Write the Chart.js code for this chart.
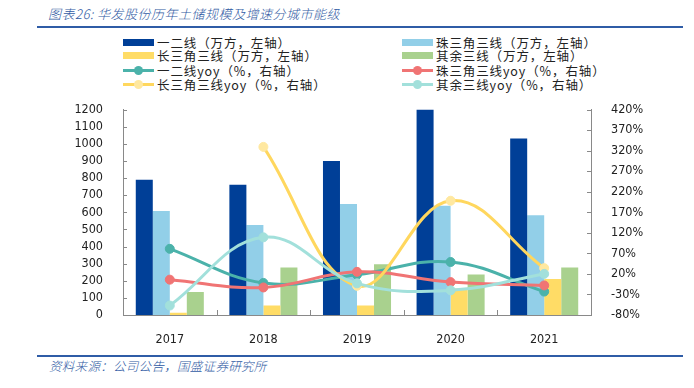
<!DOCTYPE html>
<html>
<head>
<meta charset="utf-8">
<script src="https://cdn.jsdelivr.net/npm/chart.js@4.4.1/dist/chart.umd.min.js"></script>
<style>
    html, body { margin: 0; padding: 0; background: #fff; }
    #page { position: relative; width: 694px; height: 388px; overflow: hidden; font-family: "Noto Sans CJK SC", sans-serif; }
    .title { position: absolute; left: 48px; top: 4px; font-size: 13px; font-style: italic; font-weight: 300; color: #2f5aa3; white-space: nowrap; letter-spacing: 0.5px; }
    .rule { position: absolute; left: 37px; width: 646px; height: 2px; background: #2f5ca6; }
    .source { position: absolute; left: 49px; font-size: 12.5px; font-style: italic; font-weight: 300; color: #2f5aa3; white-space: nowrap; letter-spacing: 0.3px; }
    #legend { position: absolute; left: 0; top: 0; }
    .item { position: absolute; height: 14px; display: flex; align-items: center; font-size: 12.5px; color: #222; white-space: nowrap; letter-spacing: 0.9px; }
    .mark { position: relative; width: 31px; height: 14px; margin-right: 3px; }
    .mark .box { position: absolute; left: 0; top: 3.5px; width: 31px; height: 7px; }
    .mark .ln { position: absolute; left: 0; top: 5.5px; width: 31px; height: 3px; }
    .mark .dot { position: absolute; left: 11px; top: 2.5px; width: 9px; height: 9px; border-radius: 50%; }
    #chartBox { position: absolute; left: 0; top: 90px; width: 694px; height: 260px; }
</style>
</head>
<body>
<div id="page">
    <div class="title">图表26: 华发股份历年土储规模及增速分城市能级</div>
    <div class="rule" style="top: 26px;"></div>
    <div id="legend"></div>
    <div id="chartBox"><canvas id="landChart"></canvas></div>
    <div class="rule" style="top: 355px;"></div>
    <div class="source" style="top: 356px;">资料来源：公司公告，国盛证券研究所</div>
</div>
<script>
// Data
const years = ['2017', '2018', '2019', '2020', '2021'];
const tier12 = [790, 760, 900, 1200, 1030];       // 一二线 (万方)
const prd = [607, 525, 648, 638, 582];            // 珠三角三线
const yrd = [13, 55, 55, 155, 210];               // 长三角三线
const others = [134, 278, 296, 236, 278];         // 其余三线
const tier12Yoy = [81, -2, 18, 49, -23];          // %
const prdYoy = [6, -13, 25, 0, -8];
const yrdYoy = [null, 329, -9, 198, 34];
const othersYoy = [-57, 109, -3, -20, 20];
const leftTicks = { min: 0, max: 1200, step: 100 };
const rightTicks = { min: -80, max: 420, step: 50 };

const axisColor = '#898989';
const tickFont = { family: 'Tahoma, "DejaVu Sans Condensed", sans-serif', size: 12.5 };

function barSet(label, data, color) {
    return { type: 'bar', label: label, data: data, backgroundColor: color, yAxisID: 'y', order: 10,
        barPercentage: 1, categoryPercentage: 0.727 };
}
function lineSet(label, data, color, dotColor, order) {
    return { type: 'line', label: label, data: data, borderColor: color, backgroundColor: dotColor,
        pointBackgroundColor: dotColor, pointBorderColor: dotColor, pointRadius: 4.5, pointBorderWidth: 1,
        borderWidth: 3, tension: 0.4, yAxisID: 'y1', order: order };
}

const datasets = [
    barSet('一二线（万方，左轴）', tier12, '#003f97'),
    barSet('珠三角三线（万方，左轴）', prd, '#92cfe8'),
    barSet('长三角三线（万方，左轴）', yrd, '#ffdc66'),
    barSet('其余三线（万方，左轴）', others, '#a9d18e'),
    lineSet('一二线yoy（%，右轴）', tier12Yoy, '#4bb2aa', '#4bb2aa', 4),
    lineSet('珠三角三线yoy（%，右轴）', prdYoy, '#f07474', '#f07474', 3),
    lineSet('长三角三线yoy（%，右轴）', yrdYoy, '#ffd75e', '#ffe8a0', 2),
    lineSet('其余三线yoy（%，右轴）', othersYoy, '#a2e0db', '#a2e0db', 1)
];

// small inward tick marks like the original
const innerTicks = {
    id: 'innerTicks',
    beforeDatasetsDraw(chart) {
        const { ctx, chartArea, scales } = chart;
        ctx.save();
        ctx.strokeStyle = axisColor;
        ctx.lineWidth = 1;
        ctx.beginPath();
        scales.y.ticks.forEach(t => {
            const py = Math.round(scales.y.getPixelForValue(t.value)) + 0.5;
            ctx.moveTo(chartArea.left, py); ctx.lineTo(chartArea.left + 4, py);
        });
        scales.y1.ticks.forEach(t => {
            const py = Math.round(scales.y1.getPixelForValue(t.value)) + 0.5;
            ctx.moveTo(chartArea.right - 4, py); ctx.lineTo(chartArea.right, py);
        });
        for (let i = 0; i < years.length - 1; i++) {
            const px = Math.round((scales.x.getPixelForValue(i) + scales.x.getPixelForValue(i + 1)) / 2) + 0.5;
            ctx.moveTo(px, chartArea.bottom); ctx.lineTo(px, chartArea.bottom - 5);
        }
        ctx.stroke();
        ctx.restore();
    }
};

const chart = new Chart(document.getElementById('landChart'), {
    data: { labels: years, datasets: datasets },
    options: {
        responsive: true,
        maintainAspectRatio: false,
        animation: false,
        layout: { padding: { top: 8, left: 0, right: 0, bottom: 0 } },
        plugins: { legend: { display: false }, tooltip: { enabled: false } },
        scales: {
            x: {
                grid: { display: false },
                border: { display: true, color: axisColor, width: 1 },
                ticks: { color: '#222', font: tickFont, padding: 9 },
                afterFit(scale) { scale.height = 35; }
            },
            y: {
                position: 'left',
                min: leftTicks.min, max: leftTicks.max,
                grid: { display: false },
                border: { display: true, color: axisColor, width: 1 },
                ticks: { stepSize: leftTicks.step, autoSkip: false, color: '#222', font: tickFont, padding: 12,
                    callback: v => String(v) },
                afterFit(scale) { scale.width = 123; }
            },
            y1: {
                position: 'right',
                min: rightTicks.min, max: rightTicks.max,
                grid: { display: false },
                border: { display: true, color: axisColor, width: 1 },
                ticks: { stepSize: rightTicks.step, autoSkip: false, color: '#222', font: tickFont, padding: 12,
                    callback: v => v + '%' },
                afterFit(scale) { scale.width = 103; }
            }
        }
    },
    plugins: [innerTicks]
});

// Legend in two columns, built from the datasets
const legendBox = document.getElementById('legend');
const colX = [123, 402];
const rowY = [42, 55, 70, 84];
chart.data.datasets.forEach((ds, i) => {
    const item = document.createElement('div');
    item.className = 'item';
    const row = Math.floor(i / 2), col = i % 2;
    item.style.left = colX[col] + 'px';
    item.style.top = (rowY[row] - 7) + 'px';
    const mark = document.createElement('div');
    mark.className = 'mark';
    if (ds.type === 'bar') {
        mark.innerHTML = '<div class="box" style="background:' + ds.backgroundColor + '"></div>';
    } else {
        mark.innerHTML = '<div class="ln" style="background:' + ds.borderColor + '"></div>' +
            '<div class="dot" style="background:' + ds.pointBackgroundColor + '"></div>';
    }
    const text = document.createElement('span');
    text.textContent = ds.label;
    item.appendChild(mark);
    item.appendChild(text);
    legendBox.appendChild(item);
});
</script>
</body>
</html>
